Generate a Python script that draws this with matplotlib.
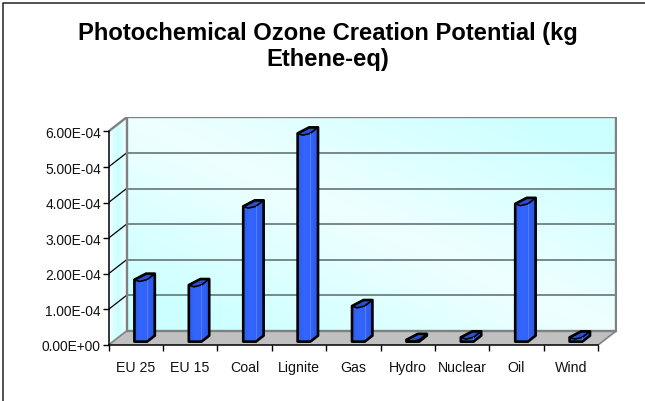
import numpy as np
from matplotlib import pyplot as plt
from matplotlib.colors import to_rgb
from matplotlib.lines import Line2D
from matplotlib.patches import Polygon

plt.rcParams['font.family'] = ['Liberation Sans', 'DejaVu Sans']

categories = ['EU 25', 'EU 15', 'Coal', 'Lignite', 'Gas', 'Hydro', 'Nuclear', 'Oil', 'Wind']
values = [1.74, 1.59, 3.80, 5.85, 1.00, 0.05, 0.12, 3.87, 0.12]
y_ticks = [0, 1, 2, 3, 4, 5, 6]
y_labels = ['0.00E+00', '1.00E-04', '2.00E-04', '3.00E-04', '4.00E-04', '5.00E-04', '6.00E-04']
title = 'Photochemical Ozone Creation Potential (kg\nEthene-eq)'

W, H = 645, 402
# 3d look: going to the back wall shifts x and y by this much (data units)
DX = 18 / 54.4
DY = 14 / 35.6


def proj(x, v, d):
    return x + d * DX, v + d * DY


def gradient_image(ax, poly, arr, colors, extent, zorder):
    c0 = np.array(to_rgb(colors[0]))
    c1 = np.array(to_rgb(colors[1]))
    rgb = c0 + (c1 - c0) * arr[..., None]
    im = ax.imshow(rgb, extent=extent, aspect='auto', origin='lower',
                   interpolation='bilinear', zorder=zorder)
    im.set_clip_path(Polygon(poly, closed=True, transform=ax.transData))
    return im


fig = plt.figure(figsize=(W / 100, H / 100), dpi=100)
fig.add_artist(Line2D([2.5 / W, 2.5 / W, 1], [0, 1 - 3.5 / H, 1 - 3.5 / H], color='#222222', lw=1.1))

ax = fig.add_axes([108.5 / W, (H - 346) / H, (616.5 - 108.5) / W, (346 - 118) / H])
n = len(categories)
top = max(y_ticks)
ax.patch.set_visible(False)

# back wall
u, v = np.meshgrid(np.linspace(0, 1, 60), np.linspace(0, 1, 60))
wall = np.clip(np.abs(u + v - 1) * 1.2, 0, 1)
back = [proj(0, 0, 1), proj(n, 0, 1), proj(n, top, 1), proj(0, top, 1)]
gradient_image(ax, back, wall, ('#efffff', '#ccffff'), (DX, n + DX, DY, top + DY), 1)

# side wall
side = [proj(0, 0, 0), proj(0, 0, 1), proj(0, top, 1), proj(0, top, 0)]
s = np.tile(np.abs(np.linspace(-1, 1, 30)), (30, 1))
gradient_image(ax, side, s, ('#c8ffff', '#f2ffff'), (0, DX, 0, top + DY), 1)

# floor
ax.add_patch(Polygon([proj(0, 0, 0), proj(n, 0, 0), proj(n, 0, 1), proj(0, 0, 1)], closed=True,
                     fc='#c0c0c0', ec='none', zorder=2))

# grid lines
for t in y_ticks[1:-1]:
    x0, y0 = proj(0, t, 1)
    x1, y1 = proj(n, t, 1)
    ax.plot([x0, x1], [y0, y1], color='#6f7f7f', lw=1.3, zorder=3)
    xs, ys = proj(0, t, 0)
    ax.plot([xs, x0], [ys, y0], color='black', lw=0.9, zorder=3)

# wall outline
ax.add_patch(Polygon(back, closed=True, fc='none', ec='#808080', lw=1.7, zorder=3))
ax.plot(*zip(proj(0, top, 0), proj(0, top, 1)), color='#808080', lw=1.7, zorder=3)
ax.plot(*zip(proj(0, 0, 0), proj(0, 0, 1)), color='#808080', lw=1.2, zorder=3)
ax.plot(*zip(proj(n, 0, 0), proj(n, 0, 1)), color='#808080', lw=1.2, zorder=3)

# bars
bar_left = 0.397
bar_w = 0.233
d0, d1 = 0.24, 0.67
for i, val in enumerate(values):
    xl = i + bar_left
    xr = xl + bar_w
    fbl, fbr = proj(xl, 0, d0), proj(xr, 0, d0)
    ftl, ftr = proj(xl, val, d0), proj(xr, val, d0)
    bbr, btr = proj(xr, 0, d1), proj(xr, val, d1)
    btl = proj(xl + 0.07, val, d1)
    # front edge of the top sags a little, so the bar looks rounded
    sag = min(0.05, val)
    fmid = proj(xl + bar_w * 0.4, val - sag, d0)
    outline = [fbl, fbr, bbr, btr, btl, ftl]
    g = np.tile(np.interp(np.linspace(0, 1, 40), [0, 0.3, 0.7, 1], [0.25, 0, 0.1, 0.5]), (2, 1))
    gradient_image(ax, outline, g, ('#3366ff', '#2244b8'), (fbl[0], bbr[0], 0, val + DY), 5 + i * 0.01)
    ax.add_patch(Polygon([ftl, fmid, ftr, btr, btl], closed=True, fc='#2a4fd0', ec='black', lw=1.2,
                         joinstyle='round', zorder=6))
    ax.plot(*zip(ftr, fbr), color='#5f80f0', lw=0.6, zorder=6)
    ax.add_patch(Polygon(outline, closed=True, fc='none', ec='black', lw=1.9,
                         joinstyle='round', zorder=7))

# axes
for name in ['top', 'right']:
    ax.spines[name].set_visible(False)
ax.spines['left'].set_bounds(0, top)
ax.spines['bottom'].set_bounds(0, n)
ax.spines['left'].set_zorder(8)
ax.spines['bottom'].set_zorder(8)
ax.spines['left'].set_linewidth(1.1)
ax.spines['bottom'].set_linewidth(1.1)
ax.set_yticks(y_ticks)
ax.set_yticklabels(y_labels, fontsize=9.9, color='#111111')
ax.set_xticks(np.arange(n + 1))
ax.set_xticklabels([])
ax.set_xticks(np.arange(n) + 0.5, minor=True)
ax.set_xticklabels(categories, minor=True, fontsize=10.2, color='#111111')
ax.tick_params(axis='x', which='major', length=4.5, width=1)
ax.tick_params(axis='x', which='minor', length=0, pad=11)
ax.tick_params(axis='y', length=4.5, width=1, pad=1)
ax.set_xlim(0, (616.5 - 108.5) / 54.4)
ax.set_ylim(0, (346 - 118) / 35.6)

fig.text(328 / W, 1 - 46.5 / H, title, ha='center', va='center', fontsize=17.1, fontweight='bold',
         linespacing=1.2, color='black')

fig.savefig('out.png', dpi=100)
